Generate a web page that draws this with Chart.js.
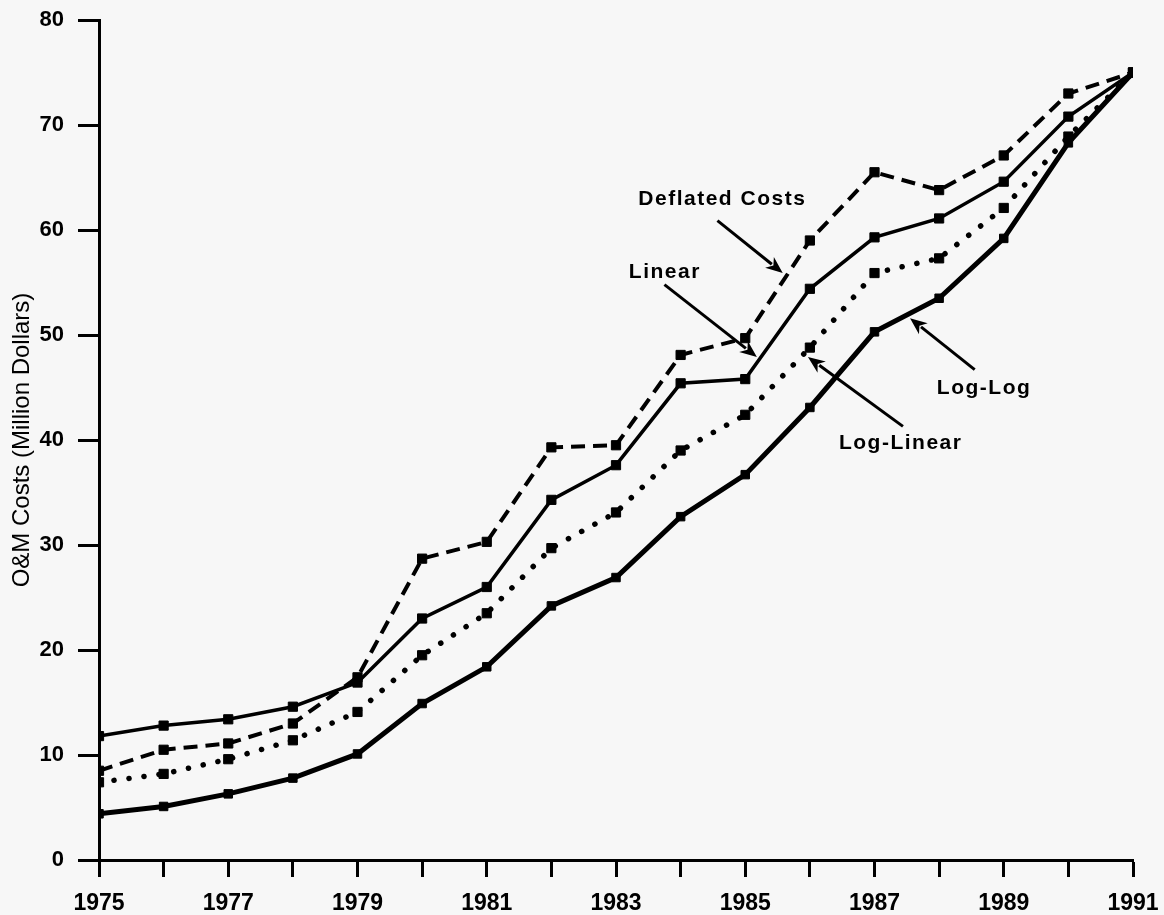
<!DOCTYPE html>
<html>
<head>
<meta charset="utf-8">
<title>O&amp;M Costs</title>
<script src="https://cdn.jsdelivr.net/npm/chart.js@4.4.1/dist/chart.umd.min.js"></script>
<style>
  html, body { margin: 0; padding: 0; background: #f7f7f7; }
  #wrap { width: 1164px; height: 915px; position: relative; }
</style>
</head>
<body>
<div id="wrap"><canvas id="chart"></canvas></div>
<script>
// Years on the horizontal axis
const years = [1975, 1976, 1977, 1978, 1979, 1980, 1981, 1982, 1983,
               1984, 1985, 1986, 1987, 1988, 1989, 1990, 1991];

// O&M costs, million dollars
const deflatedCosts = [8.5, 10.5, 11.1, 13.0, 17.4, 28.7, 30.3, 39.3, 39.5,
                       48.1, 49.7, 59.0, 65.5, 63.8, 67.1, 73.0, 75.0];
const linearFit     = [11.8, 12.8, 13.4, 14.6, 16.9, 23.0, 26.0, 34.3, 37.6,
                       45.4, 45.8, 54.4, 59.3, 61.1, 64.6, 70.8, 75.0];
const logLinearFit  = [7.4, 8.2, 9.6, 11.4, 14.1, 19.5, 23.5, 29.7, 33.1,
                       39.0, 42.4, 48.8, 55.9, 57.3, 62.1, 68.9, 75.0];
const logLogFit     = [4.4, 5.1, 6.3, 7.8, 10.1, 14.9, 18.4, 24.2, 26.9,
                       32.7, 36.7, 43.1, 50.3, 53.5, 59.2, 68.3, 75.0];

// Axis ticks
const yTicks = [0, 10, 20, 30, 40, 50, 60, 70, 80];
const xLabelYears = [1975, 1977, 1979, 1981, 1983, 1985, 1987, 1989, 1991];

// Callout labels and their arrows, in (year, cost) units
const calloutText  = ['Deflated Costs', 'Linear', 'Log-Linear', 'Log-Log'];
const calloutAt    = [[1984.63, 62.9], [1983.74, 56.0], [1987.39, 39.7], [1988.68, 44.9]];
const arrowFrom    = [[1984.57, 60.9], [1983.75, 54.8], [1987.44, 41.3], [1988.55, 46.7]];
const arrowTo      = [[1985.58, 55.9], [1985.18, 47.9], [1985.97, 47.9], [1987.55, 51.6]];

const FONT = '"Liberation Sans", Arial, Helvetica, sans-serif';

const toPoints = arr => arr.map((v, i) => ({ x: years[i], y: v }));

const backgroundPlugin = {
  id: 'paper',
  beforeDraw(chart) {
    const ctx = chart.ctx;
    ctx.save();
    ctx.fillStyle = '#f7f7f7';
    ctx.fillRect(0, 0, chart.width, chart.height);
    ctx.restore();
  }
};

const calloutPlugin = {
  id: 'callouts',
  afterDatasetsDraw(chart) {
    const ctx = chart.ctx;
    const xs = chart.scales.x, ys = chart.scales.y;
    ctx.save();
    ctx.fillStyle = '#000';
    ctx.strokeStyle = '#000';
    ctx.font = 'bold 21px ' + FONT;
    if ('letterSpacing' in ctx) ctx.letterSpacing = '1.5px';
    ctx.textAlign = 'center';
    ctx.textBaseline = 'middle';
    calloutText.forEach((t, i) => {
      ctx.fillText(t, xs.getPixelForValue(calloutAt[i][0]) + 1, ys.getPixelForValue(calloutAt[i][1]));
    });
    ctx.lineWidth = 3;
    ctx.lineCap = 'butt';
    arrowFrom.forEach((a, i) => {
      const x0 = xs.getPixelForValue(a[0]), y0 = ys.getPixelForValue(a[1]);
      const x1 = xs.getPixelForValue(arrowTo[i][0]), y1 = ys.getPixelForValue(arrowTo[i][1]);
      const ang = Math.atan2(y1 - y0, x1 - x0);
      const headLen = 17, headHalf = 7;
      const bx = x1 - headLen * Math.cos(ang), by = y1 - headLen * Math.sin(ang);
      ctx.beginPath();
      ctx.moveTo(x0, y0);
      ctx.lineTo(bx + 3 * Math.cos(ang), by + 3 * Math.sin(ang));
      ctx.stroke();
      ctx.beginPath();
      ctx.moveTo(x1, y1);
      ctx.lineTo(bx - headHalf * Math.sin(ang), by + headHalf * Math.cos(ang));
      ctx.lineTo(bx + 5 * Math.cos(ang), by + 5 * Math.sin(ang));
      ctx.lineTo(bx + headHalf * Math.sin(ang), by - headHalf * Math.cos(ang));
      ctx.closePath();
      ctx.fill();
    });
    ctx.restore();
  }
};

const common = {
  borderColor: '#000',
  backgroundColor: '#000',
  pointStyle: 'rect',
  pointBackgroundColor: '#000',
  pointBorderColor: '#000',
  pointBorderWidth: 1,
  fill: false,
  tension: 0
};

new Chart(document.getElementById('chart'), {
  type: 'line',
  data: {
    datasets: [
      Object.assign({}, common, {
        label: 'Deflated Costs',
        data: toPoints(deflatedCosts),
        borderWidth: 4,
        borderDash: [14, 8],
        pointRadius: 6.5
      }),
      Object.assign({}, common, {
        label: 'Linear',
        data: toPoints(linearFit),
        borderWidth: 3.5,
        pointRadius: 6.5
      }),
      Object.assign({}, common, {
        label: 'Log-Linear',
        data: toPoints(logLinearFit),
        borderWidth: 5.5,
        borderDash: [0.1, 15],
        borderCapStyle: 'round',
        pointRadius: 6.5
      }),
      Object.assign({}, common, {
        label: 'Log-Log',
        data: toPoints(logLogFit),
        borderWidth: 5,
        pointRadius: 6
      })
    ]
  },
  options: {
    responsive: true,
    maintainAspectRatio: false,
    animation: false,
    layout: { padding: { top: 20, right: 31, left: 0, bottom: 0 } },
    plugins: {
      legend: { display: false },
      tooltip: { enabled: false }
    },
    scales: {
      x: {
        type: 'linear',
        min: years[0],
        max: years[years.length - 1],
        afterFit(scale) {
          scale.height = 55;
          scale.paddingLeft = 0;
          scale.paddingRight = 0;
        },
        afterBuildTicks(scale) { scale.ticks = years.map(v => ({ value: v })); },
        border: { display: true, color: '#000', width: 3 },
        grid: {
          drawOnChartArea: false,
          drawTicks: true,
          tickLength: 17,
          tickWidth: 3,
          tickColor: '#000',
          color: '#000'
        },
        ticks: {
          autoSkip: false,
          maxRotation: 0,
          padding: 13,
          color: '#000',
          font: { family: FONT, size: 23, weight: 'bold' },
          callback: v => xLabelYears.includes(v) ? String(v) : ''
        }
      },
      y: {
        min: yTicks[0],
        max: yTicks[yTicks.length - 1],
        afterFit(scale) {
          scale.width = 99;
          scale.paddingTop = 0;
          scale.paddingBottom = 0;
        },
        afterBuildTicks(scale) { scale.ticks = yTicks.map(v => ({ value: v })); },
        border: { display: true, color: '#000', width: 3 },
        grid: {
          drawOnChartArea: false,
          drawTicks: true,
          tickLength: 21,
          tickWidth: 3,
          tickColor: '#000',
          color: '#000'
        },
        ticks: {
          padding: 14,
          color: '#000',
          font: { family: FONT, size: 22, weight: 'bold' },
          callback: v => String(v)
        },
        title: {
          display: true,
          text: 'O&M Costs (Million Dollars)',
          color: '#000',
          font: { family: FONT, size: 24, weight: 'normal' },
          padding: { top: 8, bottom: 0 }
        }
      }
    }
  },
  plugins: [backgroundPlugin, calloutPlugin]
});
</script>
</body>
</html>
